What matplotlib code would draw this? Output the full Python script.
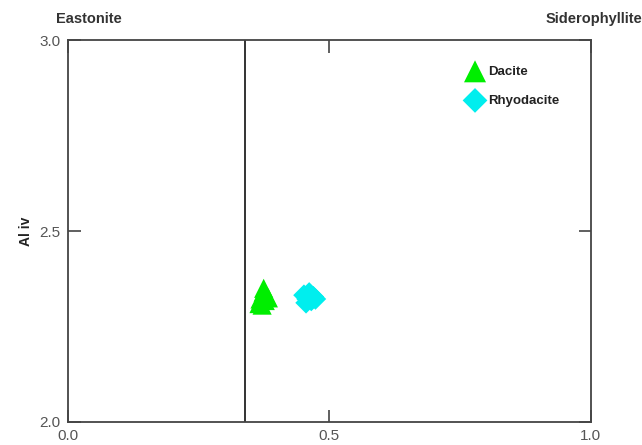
import matplotlib
matplotlib.use("Agg")
import matplotlib.pyplot as plt

plt.rcParams['font.family'] = ['Liberation Sans', 'DejaVu Sans']

# Biotite compositions: Fe/(Fe+Mg) vs Al(iv)
dacite_x = [0.368, 0.374, 0.381, 0.366, 0.378, 0.372, 0.384, 0.375]
dacite_y = [2.322, 2.340, 2.330, 2.310, 2.318, 2.306, 2.325, 2.350]
rhyo_x = [0.452, 0.462, 0.470, 0.456, 0.466, 0.458, 0.474]
rhyo_y = [2.332, 2.338, 2.328, 2.312, 2.318, 2.322, 2.322]

divider_x = 0.34
xticks = [0.0, 0.5, 1.0]
yticks = [2.0, 2.5, 3.0]

fig = plt.figure(figsize=(6.42, 4.45), dpi=100)
ax = fig.add_axes([0.1052, 0.0517, 0.8147, 0.8583])

ax.axvline(divider_x, color='#333333', lw=1.4, zorder=1)
ax.scatter(dacite_x, dacite_y, marker='^', s=190, color='#00ee00',
           edgecolors='none', label='Dacite', zorder=3)
ax.scatter(rhyo_x, rhyo_y, marker='D', s=120, color='#00eeee',
           edgecolors='none', label='Rhyodacite', zorder=3)

ax.set_xlim(0, 1)
ax.set_ylim(2.0, 3.0)
ax.set_xticks(xticks)
ax.set_yticks(yticks)
ax.set_xticklabels([f'{v:.1f}' for v in xticks])
ax.set_yticklabels([f'{v:.1f}' for v in yticks])
ax.tick_params(direction='in', length=9, width=1.2, colors='#444444',
               labelcolor='#555555', labelsize=11,
               top=True, right=True, pad=5)
for s in ax.spines.values():
    s.set_color('#444444')
    s.set_linewidth(1.3)

ax.set_ylabel('Al iv', fontsize=10, fontweight='bold', color='#222222',
              labelpad=5)

fig.text(0.088, 0.958, 'Eastonite', fontsize=10.5, fontweight='bold',
         color='#333333', ha='left', va='center')
fig.text(1.0, 0.958, 'Siderophyllite', fontsize=10.5, fontweight='bold',
         color='#333333', ha='right', va='center')

leg = ax.legend(loc='upper left', bbox_to_anchor=(0.745, 0.954), frameon=False,
                fontsize=9.5, handletextpad=0.25, labelspacing=1.28,
                markerscale=1.15, borderaxespad=0.2, handlelength=1.5)
for t in leg.get_texts():
    t.set_fontweight('bold')
    t.set_color('#222222')

fig.savefig('out.png', dpi=100)
